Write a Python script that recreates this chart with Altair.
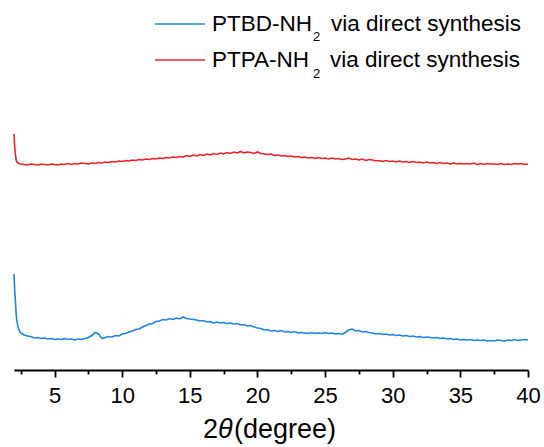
import altair as alt
import pandas as pd

# 2θ sampling: a few dense points over the low-angle edge, then a 0.25° grid
spike_theta = [2.0, 2.05, 2.1, 2.15, 2.2, 2.3, 2.4]
grid_theta = [round(2.5 + 0.25 * i, 2) for i in range(151)]
two_theta = spike_theta + grid_theta

# PTBD-NH2 intensity (a.u., offset trace)
ptbd_counts = [
    98, 82, 72, 60, 52, 45, 41,
    39, 37, 36, 35.5,
    34, 34.5, 33.5, 34,
    33, 33.5, 32.5, 33,
    32.5, 33.5, 32.5, 33,
    32, 33, 32.5, 33.5,
    34.5, 36.5, 39.5, 38,
    33.5, 34.5, 35.5, 35,
    36.5, 36, 38, 38.5,
    40, 41, 42.5, 43,
    45, 46.5, 48, 48.5,
    50.5, 51, 52.5, 52,
    53.5, 52.5, 54, 53,
    55, 53.5, 53, 52.5,
    52, 51, 51.5, 50,
    50.5, 49, 50, 49,
    49.5, 48.5, 49, 48,
    48.5, 47, 47.5, 46,
    46.5, 45, 44, 43.5,
    42, 42.5, 41, 41.5,
    40.5, 41.5, 40, 40.5,
    39.5, 40.5, 39, 39.5,
    39, 38.5, 39.5, 38.5,
    39, 38.5, 39.5, 38.5,
    39, 38, 38.5, 37.5,
    39.5, 42, 43, 41,
    41.5, 40, 40.5, 39.5,
    39, 38, 38.5, 37.5,
    38, 37, 37.5, 36.5,
    37, 36, 36.5, 35.5,
    36, 35, 35.5, 34.5,
    35, 34.5, 34, 34.5,
    33.5, 34, 33, 33.5,
    32.5, 33, 32, 32.5,
    32, 32.5, 31.5, 32,
    31.5, 32, 31, 31.5,
    31, 32, 31.5, 31,
    32, 31.5, 32.5, 31.5,
    32, 32.5, 32,
]

# PTPA-NH2 intensity (a.u., offset trace)
ptpa_counts = [
    238, 226, 218, 213, 210.5, 209, 208.5,
    208, 207.5, 207, 208,
    207.5, 207, 208, 207.5,
    207, 208, 207.5, 207,
    208, 207.5, 208.5, 207.5,
    208.5, 208, 209, 208.5,
    208, 209, 208.5, 209.5,
    209, 210, 209.5, 210.5,
    210, 211, 210.5, 211.5,
    211, 212, 211.5, 212.5,
    212, 213, 212.5, 213.5,
    213, 214, 213.5, 214.5,
    214, 215, 214.5, 215.5,
    215, 216.5, 215.5, 217,
    216, 217.5, 216.5, 218,
    217, 218.5, 217.5, 219,
    218, 219.5, 218.5, 220,
    219, 220.5, 219, 220,
    219.5, 218.5, 220, 218.5,
    218, 217.5, 218, 216.5,
    217, 216, 216.5, 215.5,
    216, 215, 215.5, 214.5,
    215, 214, 214.5, 213.5,
    214.5, 213.5, 214, 213,
    214, 213, 213.5, 212.5,
    213, 214, 212.5, 213,
    212, 213, 211.5, 212.5,
    212, 211, 211.5, 210.5,
    211.5, 210.5, 211, 210,
    211, 210, 210.5, 209.5,
    210.5, 209.5, 210, 209,
    210, 209, 209.5, 208.5,
    209.5, 208.5, 209, 208,
    209, 208, 208.5, 208,
    208.5, 208, 209, 207.5,
    208.5, 207.5, 208.5, 208,
    208, 207.5, 208.5, 207.5,
    208, 207.5, 208.5, 208,
    208.5, 207.5, 208,
]

series_keys = ["PTBD", "PTPA"]
series_colors = ["#1f83e6", "#e8232a"]
major_ticks = [5, 10, 15, 20, 25, 30, 35, 40]
minor_ticks = [2.5, 7.5, 12.5, 17.5, 22.5, 27.5, 32.5, 37.5]

df = pd.concat(
    [
        pd.DataFrame({"two_theta": two_theta, "intensity": ptbd_counts, "sample": series_keys[0]}),
        pd.DataFrame({"two_theta": two_theta, "intensity": ptpa_counts, "sample": series_keys[1]}),
    ],
    ignore_index=True,
)

FONT = "Liberation Sans"
x_scale = alt.Scale(domain=[2, 40], nice=False, zero=False)
y_scale = alt.Scale(domain=[2, 362], nice=False, zero=False)

major_axis = alt.Axis(
    values=major_ticks, orient="bottom", title=None, grid=False,
    domainColor="black", domainWidth=1.8, tickColor="black", tickWidth=1.8,
    tickSize=7, labelFont=FONT, labelFontSize=22, labelColor="black",
    labelPadding=8, labelFlush=False, labelOverlap=False,
)
minor_axis = alt.Axis(
    values=minor_ticks, orient="bottom", title=None, grid=False, labels=False,
    domain=False, tickColor="black", tickWidth=1.8, tickSize=4,
)

traces = alt.Chart(df).mark_line(strokeWidth=1.6).encode(
    x=alt.X("two_theta:Q", scale=x_scale, axis=major_axis),
    y=alt.Y("intensity:Q", scale=y_scale, axis=None),
    color=alt.Color("sample:N", scale=alt.Scale(domain=series_keys, range=series_colors), legend=None),
    detail="sample:N",
)

minor = alt.Chart(df).mark_line(opacity=0).encode(
    x=alt.X("two_theta:Q", scale=x_scale, axis=minor_axis),
    y=alt.Y("intensity:Q", scale=y_scale, axis=None),
    detail="sample:N",
)


def label(text, x, y, size, style="normal"):
    return alt.Chart(pd.DataFrame({"t": [text]})).mark_text(
        align="left", baseline="alphabetic", font=FONT, fontSize=size,
        fontStyle=style, color="black",
    ).encode(text="t:N", x=alt.value(x), y=alt.value(y))


def swatch(color, y):
    return alt.Chart(pd.DataFrame({"k": [0]})).mark_rule(
        color=color, strokeWidth=1.6
    ).encode(x=alt.value(141), x2=alt.value(191), y=alt.value(y))


legend_layers = [
    swatch(series_colors[0], 14),
    label("PTBD-NH", 198, 21, 22.5),
    label("2", 299, 31, 13),
    label("via direct synthesis", 317, 21, 22.5),
    swatch(series_colors[1], 50),
    label("PTPA-NH", 198, 57, 22.5),
    label("2", 299, 68, 13),
    label("via direct synthesis", 316, 57, 22.5),
]

title_layers = [
    label("2", 189, 428, 27),
    label("θ", 204, 428, 27, "italic"),
    label("(degree)", 220, 428, 27),
]

chart = alt.layer(
    traces, minor, *legend_layers, *title_layers
).resolve_axis(x="independent").properties(
    width=514,
    height=360,
    autosize=alt.AutoSizeParams(type="none"),
    padding={"left": 14, "top": 10, "right": 16, "bottom": 77},
).configure_view(stroke=None)

chart.save("out.html", embed_options={"renderer": "svg", "actions": False})
